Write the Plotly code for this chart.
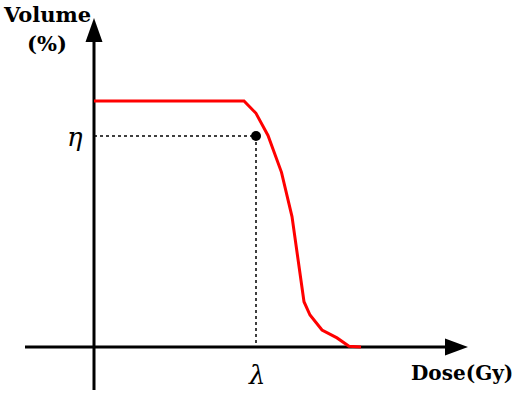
import plotly.graph_objects as go

# ---- data (dose in arbitrary Gy units, volume in %) ----
dose = [0, 50, 54, 58, 62.5, 66, 70, 72, 76, 81, 85, 89]
volume = [100, 100, 95, 86, 71, 53, 18.4, 13, 6.9, 3.7, 0.3, 0]
lam = 54      # λ
eta = 85.8    # η

W, H = 517, 407
X0, Y0 = 94, 347          # pixel location of origin
SX, SY = 3.0, 2.46        # pixels per unit

def px2x(p):
    return (p - X0) / SX

def px2y(p):
    return (Y0 - p) / SY

fig = go.Figure()

fig.add_trace(go.Scatter(x=dose, y=volume, mode="lines",
                         line=dict(color="#ff0000", width=3),
                         showlegend=False, hoverinfo="skip"))

# guide lines
fig.add_trace(go.Scatter(x=[0, lam], y=[eta, eta], mode="lines",
                         line=dict(color="black", width=1.5, dash="3px,3px"),
                         showlegend=False, hoverinfo="skip"))
fig.add_trace(go.Scatter(x=[lam, lam], y=[eta, 0], mode="lines",
                         line=dict(color="black", width=1.5, dash="3px,3px"),
                         showlegend=False, hoverinfo="skip"))
fig.add_trace(go.Scatter(x=[lam], y=[eta], mode="markers",
                         marker=dict(color="black", size=10),
                         showlegend=False, hoverinfo="skip"))

shapes = []
# axes lines
shapes.append(dict(type="line", x0=px2x(X0), x1=px2x(X0), y0=px2y(390), y1=px2y(40),
                   line=dict(color="black", width=3), xref="x", yref="y", layer="below"))
shapes.append(dict(type="line", x0=px2x(25), x1=px2x(447), y0=px2y(Y0), y1=px2y(Y0),
                   line=dict(color="black", width=3), xref="x", yref="y", layer="below"))
# arrowheads
shapes.append(dict(type="path", xref="x", yref="y",
                   path=f"M {px2x(X0)},{px2y(18)} L {px2x(X0-8.5)},{px2y(42)} L {px2x(X0+8.5)},{px2y(42)} Z",
                   fillcolor="black", line=dict(color="black", width=0)))
shapes.append(dict(type="path", xref="x", yref="y",
                   path=f"M {px2x(468)},{px2y(Y0)} L {px2x(445)},{px2y(Y0-8.5)} L {px2x(445)},{px2y(Y0+8.5)} Z",
                   fillcolor="black", line=dict(color="black", width=0)))

serif = "DejaVu Serif"
ann = [
    dict(x=px2x(47), y=px2y(14), text="<b>Volume</b>", showarrow=False,
         font=dict(family=serif, size=21, color="black"), xanchor="center", yanchor="middle"),
    dict(x=px2x(47), y=px2y(43), text="<b>(%)</b>", showarrow=False,
         font=dict(family=serif, size=21, color="black"), xanchor="center", yanchor="middle"),
    dict(x=px2x(515), y=px2y(373), text="<b>Dose(Gy)</b>", showarrow=False,
         font=dict(family=serif, size=20, color="black"), xanchor="right", yanchor="middle"),
    dict(x=px2x(75), y=px2y(137), text="<i>η</i>", showarrow=False,
         font=dict(family=serif, size=26, color="black"), xanchor="center", yanchor="middle"),
    dict(x=lam, y=px2y(375), text="<i>λ</i>", showarrow=False,
         font=dict(family=serif, size=26, color="black"), xanchor="center", yanchor="middle"),
]

fig.update_layout(
    width=W, height=H,
    margin=dict(l=0, r=0, t=0, b=0),
    paper_bgcolor="white", plot_bgcolor="white",
    xaxis=dict(range=[px2x(0), px2x(W)], visible=False, fixedrange=True),
    yaxis=dict(range=[px2y(H), px2y(0)], visible=False, fixedrange=True),
    shapes=shapes, annotations=ann,
)

fig.write_html("out.html")
